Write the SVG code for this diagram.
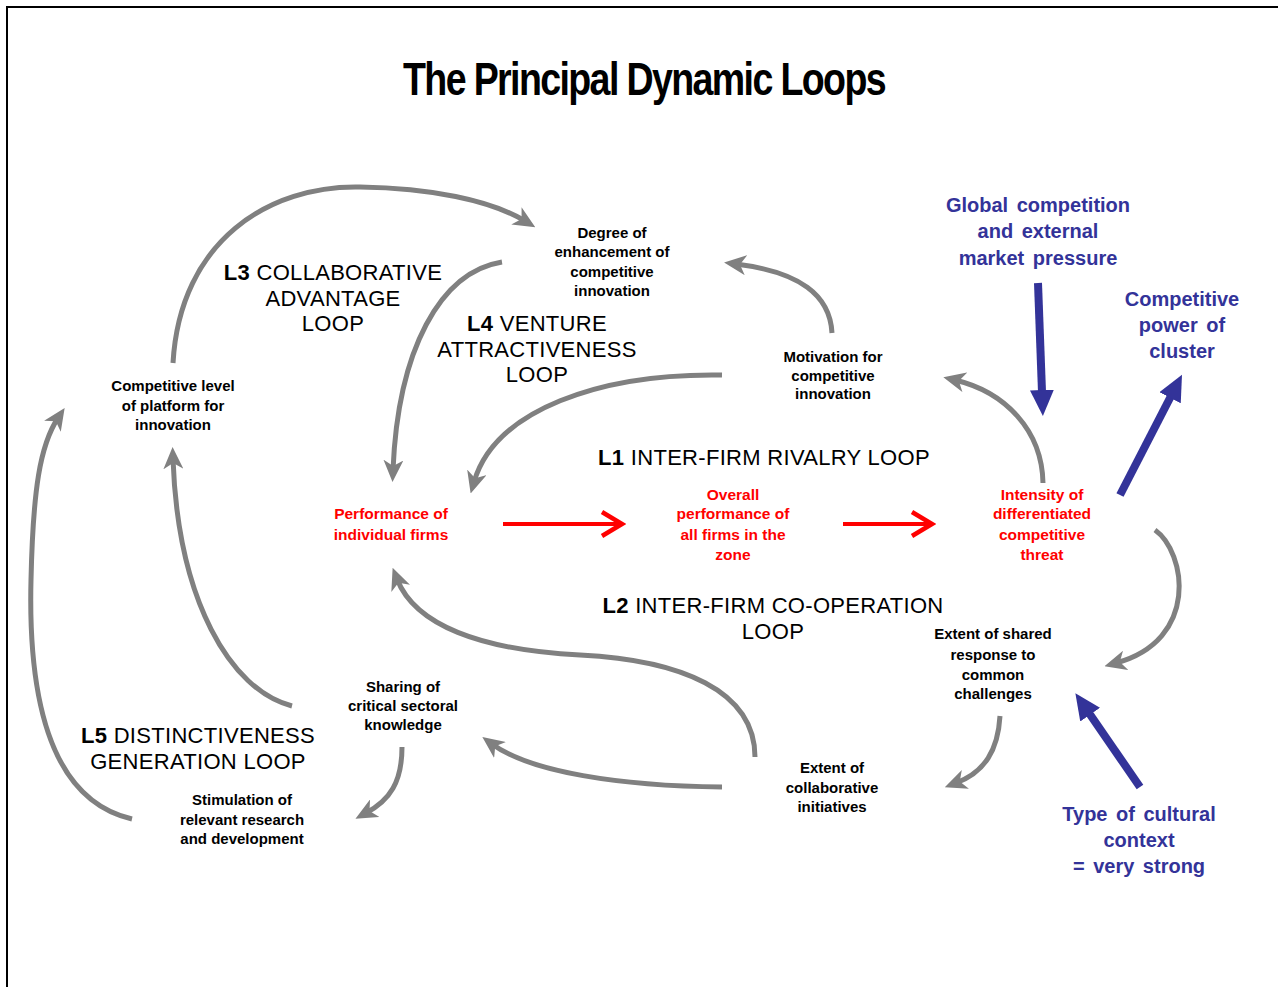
<svg xmlns="http://www.w3.org/2000/svg" width="1278" height="987" viewBox="0 0 1278 987">
<style>
.node{font-family:"Liberation Sans",Arial,sans-serif;font-weight:bold;font-size:15px;fill:#000;text-anchor:middle}
.red{font-family:"Liberation Sans",Arial,sans-serif;font-weight:bold;font-size:15.5px;fill:#ff0000;text-anchor:middle}
.blue{font-family:"Liberation Sans",Arial,sans-serif;font-weight:bold;font-size:20px;fill:#333399;text-anchor:middle;word-spacing:3px}
.loop{font-family:"Liberation Sans",Arial,sans-serif;font-size:22px;fill:#000;text-anchor:middle;letter-spacing:0.3px}
.loop tspan.b{font-weight:bold}
.title{font-family:"Liberation Sans",Arial,sans-serif;font-weight:bold;font-size:46px;fill:#000;text-anchor:middle;letter-spacing:-2px}
.g{fill:none;stroke:#808080;stroke-width:5;marker-end:url(#gh)}
.r{fill:none;stroke:#ff0000;stroke-width:4;marker-end:url(#rh)}
.bl{fill:none;stroke:#333399;stroke-width:8;marker-end:url(#bh)}
</style>
<defs>
<marker id="gh" markerUnits="userSpaceOnUse" viewBox="0 0 22 20" markerWidth="22" markerHeight="20" refX="10" refY="10" orient="auto">
<path d="M0,0 L22,10 L0,20 L6,10 z" fill="#808080"/>
</marker>
<marker id="rh" markerUnits="userSpaceOnUse" viewBox="0 0 26 28" markerWidth="26" markerHeight="28" refX="22" refY="14" orient="auto">
<path d="M2,2 L22,14 L2,26" fill="none" stroke="#ff0000" stroke-width="4.5"/>
</marker>
<marker id="bh" markerUnits="userSpaceOnUse" viewBox="0 0 26 24" markerWidth="26" markerHeight="24" refX="2" refY="12" orient="auto">
<path d="M0,0 L26,12 L0,24 z" fill="#333399"/>
</marker>
</defs>
<rect width="1278" height="987" fill="#fff"/>
<path d="M7,987 L7,7 L1278,7" fill="none" stroke="#000" stroke-width="2"/>
<text class="title" x="644" y="95" textLength="482" lengthAdjust="spacingAndGlyphs">The Principal Dynamic Loops</text>

<g id="connectors">
<path class="g" d="M173,363 C180,240 270,185 360,187 C430,188 490,200 525,221"/>
<path class="g" d="M502,262 C440,272 398,350 393,470"/>
<path class="g" d="M832,333 C830,295 800,272 736,264"/>
<path class="g" d="M722,375 C600,373 495,410 474,482"/>
<path class="g" d="M1043,483 C1042,430 1005,392 955,380"/>
<path class="g" d="M1155,530 C1186,552 1200,640 1116,663"/>
<path class="g" d="M1000,716 C998,750 985,772 956,783"/>
<path class="g" d="M755,757 C755,690 680,660 580,655 C480,650 415,625 397,579"/>
<path class="g" d="M722,787 C620,786 530,772 492,744"/>
<path class="g" d="M402,747 C402,782 390,800 366,813"/>
<path class="g" d="M132,819 C50,800 28,700 31,580 C33,490 40,445 58,418"/>
<path class="g" d="M292,706 C230,690 178,600 173,459"/>
<path class="r" d="M503,524 L622,524"/>
<path class="r" d="M843,524 L932,524"/>
<path class="bl" d="M1038,283 L1042,392"/>
<path class="bl" d="M1120,495 L1171,396"/>
<path class="bl" d="M1140,787 L1089,713"/>
</g>

<g id="n-degree"><text class="node"><tspan x="612" y="238">Degree of</tspan><tspan x="612" y="257">enhancement of</tspan><tspan x="612" y="277">competitive</tspan><tspan x="612" y="296">innovation</tspan></text></g>
<g id="n-motivation"><text class="node"><tspan x="833" y="362">Motivation for</tspan><tspan x="833" y="381">competitive</tspan><tspan x="833" y="399">innovation</tspan></text></g>
<g id="n-platform"><text class="node"><tspan x="173" y="391">Competitive level</tspan><tspan x="173" y="411">of platform for</tspan><tspan x="173" y="430">innovation</tspan></text></g>
<g id="n-performance"><text class="red"><tspan x="391" y="519">Performance of</tspan><tspan x="391" y="540">individual firms</tspan></text></g>
<g id="n-overall"><text class="red"><tspan x="733" y="500">Overall</tspan><tspan x="733" y="519">performance of</tspan><tspan x="733" y="540">all firms in the</tspan><tspan x="733" y="560">zone</tspan></text></g>
<g id="n-intensity"><text class="red"><tspan x="1042" y="500">Intensity of</tspan><tspan x="1042" y="519">differentiated</tspan><tspan x="1042" y="540">competitive</tspan><tspan x="1042" y="560">threat</tspan></text></g>
<g id="n-shared"><text class="node"><tspan x="993" y="639">Extent of shared</tspan><tspan x="993" y="660">response to</tspan><tspan x="993" y="680">common</tspan><tspan x="993" y="699">challenges</tspan></text></g>
<g id="n-collab"><text class="node"><tspan x="832" y="773">Extent of</tspan><tspan x="832" y="793">collaborative</tspan><tspan x="832" y="812">initiatives</tspan></text></g>
<g id="n-sharing"><text class="node"><tspan x="403" y="692">Sharing of</tspan><tspan x="403" y="711">critical sectoral</tspan><tspan x="403" y="730">knowledge</tspan></text></g>
<g id="n-stimulation"><text class="node"><tspan x="242" y="805">Stimulation of</tspan><tspan x="242" y="825">relevant research</tspan><tspan x="242" y="844">and development</tspan></text></g>
<g id="n-global"><text class="blue"><tspan x="1038" y="212">Global competition</tspan><tspan x="1038" y="238">and external</tspan><tspan x="1038" y="265">market pressure</tspan></text></g>
<g id="n-power"><text class="blue"><tspan x="1182" y="306">Competitive</tspan><tspan x="1182" y="332">power of</tspan><tspan x="1182" y="358">cluster</tspan></text></g>
<g id="n-cultural"><text class="blue"><tspan x="1139" y="821">Type of cultural</tspan><tspan x="1139" y="847">context</tspan><tspan x="1139" y="873">= very strong</tspan></text></g>

<g id="loop-l3"><text class="loop"><tspan x="333" y="280"><tspan class="b">L3</tspan> COLLABORATIVE</tspan><tspan x="333" y="306">ADVANTAGE</tspan><tspan x="333" y="331">LOOP</tspan></text></g>
<g id="loop-l4"><text class="loop"><tspan x="537" y="331"><tspan class="b">L4</tspan> VENTURE</tspan><tspan x="537" y="357">ATTRACTIVENESS</tspan><tspan x="537" y="382">LOOP</tspan></text></g>
<g id="loop-l1"><text class="loop"><tspan x="764" y="465"><tspan class="b">L1</tspan> INTER-FIRM RIVALRY LOOP</tspan></text></g>
<g id="loop-l2"><text class="loop"><tspan x="773" y="613"><tspan class="b">L2</tspan> INTER-FIRM CO-OPERATION</tspan><tspan x="773" y="639">LOOP</tspan></text></g>
<g id="loop-l5"><text class="loop"><tspan x="198" y="743"><tspan class="b">L5</tspan> DISTINCTIVENESS</tspan><tspan x="198" y="769">GENERATION LOOP</tspan></text></g>
</svg>
